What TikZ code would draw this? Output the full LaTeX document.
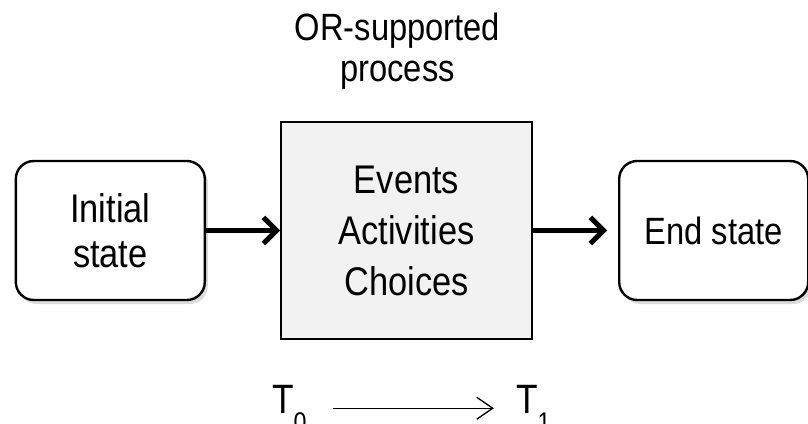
\documentclass[tikz,border=0pt]{standalone}
\usepackage{fontspec}
\setmainfont{Liberation Sans}[FakeStretch=0.86]
\usetikzlibrary{positioning,shadows,arrows.meta}

\tikzset{
  statebox/.style={draw, line width=2.4pt, rounded corners=18pt, fill=white,
    minimum width=189pt, minimum height=139pt, align=center,
    drop shadow={shadow xshift=3pt, shadow yshift=-4pt, fill=black!40, opacity=0.35},
    font=\fontsize{40}{45}\selectfont},
  procbox/.style={draw, line width=2pt, fill=gray!10,
    minimum width=251pt, minimum height=217pt, align=center,
    font=\fontsize{40}{51}\selectfont},
  flow/.style={line width=5pt, -{Straight Barb[length=13pt,width=26pt]}},
  timeline/.style={line width=1.3pt, -{Straight Barb[length=16pt,width=22pt]}},
}
\newcommand{\lowidx}[1]{\raisebox{-0.45em}{\fontsize{27}{27}\selectfont #1}}

\begin{document}
\begin{tikzpicture}[x=1pt, y=1pt]
  \useasboundingbox (0,0) rectangle (808,-423);
  \node[procbox] (proc) at (406.5,-230.5) {Events\\Activities\\Choices};
  \node[statebox, left=74pt of proc] (init) {Initial\\state};
  \node[statebox, right=85pt of proc, font=\fontsize{38}{45}\selectfont] (end) {End state};
  \node[above=31pt of proc, xshift=-9pt, align=center, inner sep=0,
    font=\fontsize{38}{41}\selectfont] (title) {OR-supported\\process};
  \draw[flow] (init) -- (proc);
  \draw[flow, shorten >=11pt] (proc) -- (end);
  % time axis
  \node[anchor=base west, inner sep=0, font=\fontsize{41}{41}\selectfont] (t0) at (272,-413) {T\lowidx{0}};
  \node[right=209pt of t0, inner sep=0, font=\fontsize{41}{41}\selectfont] (t1) {T\lowidx{1}};
  \draw[timeline, shorten <=26pt, shorten >=22pt] (t0) -- (t1);
\end{tikzpicture}
\end{document}
